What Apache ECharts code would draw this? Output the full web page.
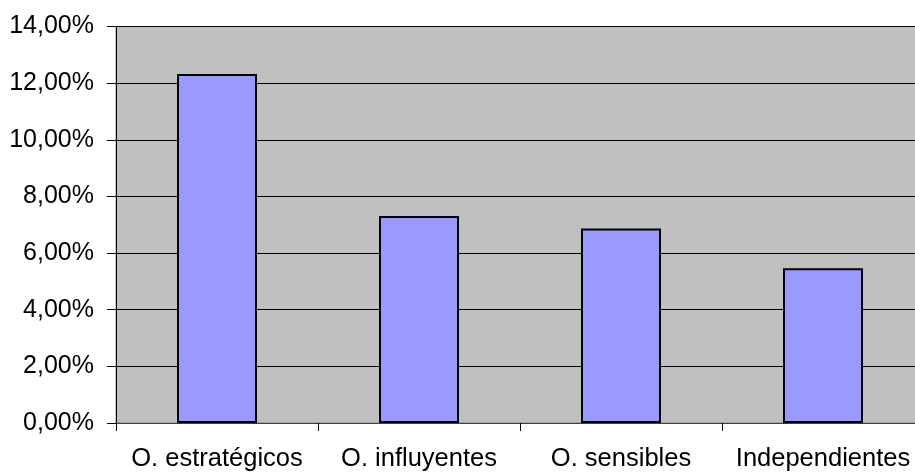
<!DOCTYPE html>
<html>
<head>
<meta charset="utf-8">
<script src="https://cdn.jsdelivr.net/npm/echarts@6/dist/echarts.min.js"></script>
<style>
  html, body { margin: 0; padding: 0; background: #fff; }
  #chart { width: 915px; height: 473px; }
</style>
</head>
<body>
<div id="chart"></div>
<script>
  // categories and values (percent)
  const categories = ['O. estratégicos', 'O. influyentes', 'O. sensibles', 'Independientes'];
  const values = [12.32, 7.31, 6.87, 5.46];

  const fmt = function(v) {
    return v.toFixed(2).replace('.', ',') + '%';
  };

  const chart = echarts.init(document.getElementById('chart'));
  chart.setOption({
    animation: false,
    backgroundColor: '#ffffff',
    textStyle: { fontFamily: 'Liberation Sans, Arial, sans-serif' },
    grid: {
      left: 116,
      top: 26.5,
      right: -9,
      bottom: 50,
      outerBoundsMode: 'none',
      containLabel: false,
      show: true,
      backgroundColor: '#c0c0c0',
      borderColor: '#8a8a8a',
      borderWidth: 1
    },
    xAxis: {
      type: 'category',
      data: categories,
      axisLine: { lineStyle: { color: '#404040', width: 1 } },
      axisTick: { show: true, length: 8, lineStyle: { color: '#000' } },
      axisLabel: {
        color: '#000',
        fontSize: 25.5,
        margin: 23,
        interval: 0
      }
    },
    yAxis: {
      type: 'value',
      min: 0,
      max: 14,
      interval: 2,
      axisLine: { show: true, lineStyle: { color: '#000', width: 1 } },
      axisTick: { show: true, length: 9, lineStyle: { color: '#000' } },
      axisLabel: {
        color: '#000',
        fontSize: 25,
        margin: 22,
        formatter: fmt
      },
      splitLine: { show: true, lineStyle: { color: '#000', width: 1 } }
    },
    series: [{
      type: 'bar',
      data: values,
      barWidth: 80,
      itemStyle: {
        color: '#9999ff',
        borderColor: '#000',
        borderWidth: 2
      }
    }]
  });
</script>
</body>
</html>
